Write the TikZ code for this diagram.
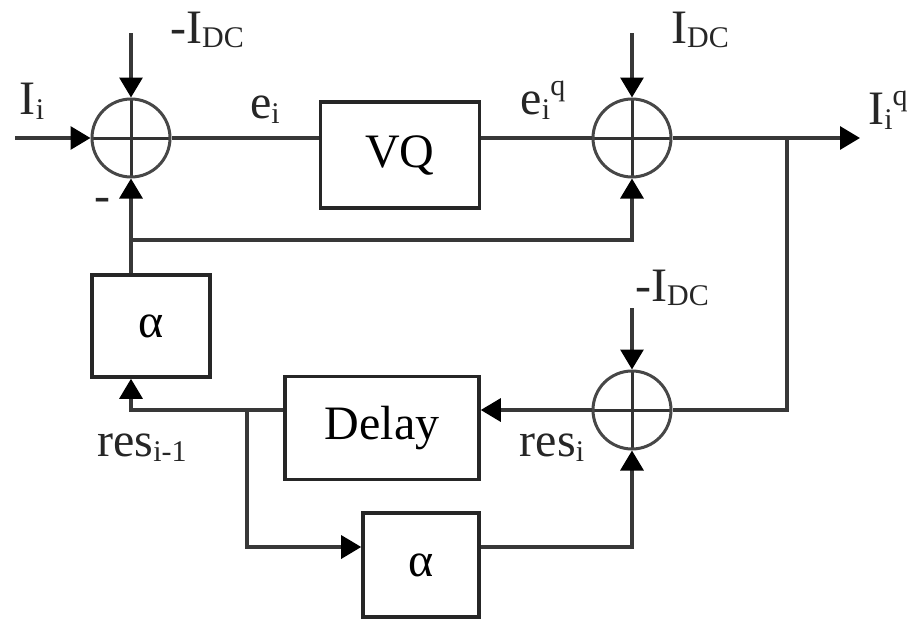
\documentclass[tikz,border=0pt]{standalone}
\usepackage{fontspec}
\setmainfont{Liberation Serif}
\usepackage{tikz}
\usetikzlibrary{arrows.meta}

\newcommand{\lo}[1]{\raisebox{-0.22ex}{\fontsize{30}{32}\selectfont #1}}
\newcommand{\hi}[1]{\raisebox{0.85ex}{\fontsize{30}{32}\selectfont #1}}

\begin{document}
\begin{tikzpicture}[x=1pt, y=-1pt, font=\fontsize{48}{56}\selectfont,
  wire/.style={line width=3.2pt, draw=black!78},
  arr/.style={wire, -{Triangle[length=20pt, width=23pt, color=black, fill=black]}},
  block/.style={draw=black!85, line width=3.6pt, inner sep=0pt},
  sumnode/.style={circle, draw=black!72, line width=3pt, minimum size=78pt, inner sep=0pt,
    path picture={\draw[line width=3pt, black!80]
      (path picture bounding box.north) -- (path picture bounding box.south)
      (path picture bounding box.west) -- (path picture bounding box.east);}},
  lbl/.style={inner sep=0pt, text=black!85}]

\useasboundingbox (0,0) rectangle (916,621);

% summing junctions
\node[sumnode] (s1) at (131,138) {};
\node[sumnode] (s2) at (632,138) {};
\node[sumnode] (s3) at (632,410) {};

% blocks
\node[block, minimum width=159pt, minimum height=106pt] (vq) at (400,155) {VQ};
\node[block, minimum width=118pt, minimum height=102pt] (a1) at (151,326) {α};
\node[block, minimum width=194pt, minimum height=103pt] (dl) at (382,428) {Delay};
\node[block, minimum width=116pt, minimum height=104pt] (a2) at (421,565) {α};

% free ends and branch points
\coordinate (in) at (15,138);
\coordinate (t1) at (131,33);
\coordinate (t2) at (632,33);
\coordinate (t3) at (632,308);
\coordinate (out) at (860,138);
\coordinate (br2) at (787,138);
\coordinate (fb) at (131,240);
\coordinate (br1) at (247,410);
\coordinate (low) at (247,547);

% forward path
\draw[arr] (in) -- (s1);
\draw[arr] (t1) -- (s1);
\draw[wire] (s1) -- (vq.west |- s1);
\draw[wire] (vq.east |- s1) -- (s2);
\draw[arr] (t2) -- (s2);
\draw[arr] (s2) -- (out);

% residual loop
\draw[wire] (br2) |- (s3);
\draw[arr] (t3) -- (s3);
\draw[arr] (s3) -- (dl.east |- s3);
\draw[arr] (dl.west |- s3) -| (a1.south -| s1);
\draw[arr] (a1.north -| s1) -- (s1);
\draw[arr] (fb) -| (s2);
\draw[arr] (br1) -- (low) -- (a2.west |- low);
\draw[arr] (a2.east |- low) -| (s3);

% labels
\node[lbl] (lin) at (32,101) {I\lo{i}};
\node[lbl] (ldc1) at (207,30) {-I\lo{DC}};
\node[lbl] (ldc2) at (700,30) {I\lo{DC}};
\node[lbl] (ldc3) at (672,288) {-I\lo{DC}};
\node[lbl] (le) at (265,110) {e\lo{i}};
\node[lbl] (leq) at (543,100) {e\lo{i}\hi{q}};
\node[lbl] (lout) at (888,110) {I\lo{i}\hi{q}};
\node[lbl] (lminus) at (102,205) {-};
\node[lbl] (lres1) at (142,448) {res\lo{i-1}};
\node[lbl] (lres) at (552,448) {res\lo{i}};

\end{tikzpicture}
\end{document}
